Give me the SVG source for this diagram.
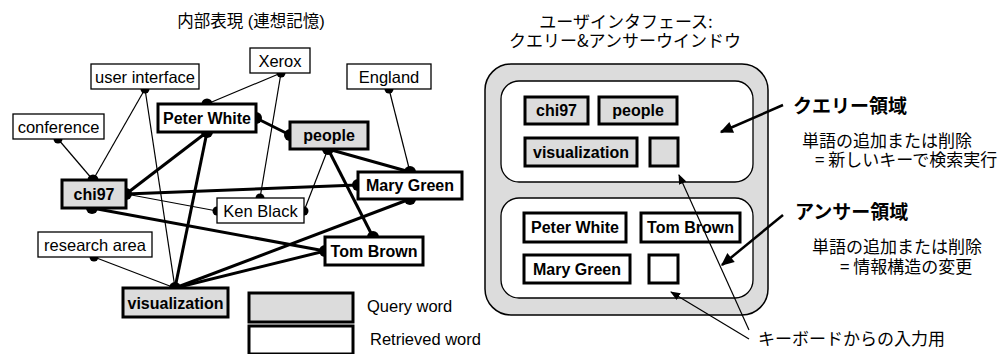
<svg xmlns="http://www.w3.org/2000/svg" width="1005" height="354" viewBox="0 0 1005 354">
  <defs>
    <style>
      .bg { fill: #ffffff; }
      .lat { font-family: "Liberation Sans", Arial, sans-serif; }
      .jp { font-family: "Liberation Sans", "Noto Sans CJK JP", sans-serif; }
      .word { fill: #fff; stroke: #000; stroke-width: 1.3; }
      .key { stroke: #000; stroke-width: 3; }
      .q { fill: #dcdcdc; }
      .r { fill: #fff; }
      .lbl { font-family: "Liberation Sans", Arial, sans-serif; font-size: 16.5px; text-anchor: middle; fill: #000; }
      .blbl { font-family: "Liberation Sans", Arial, sans-serif; font-size: 16px; font-weight: bold; text-anchor: middle; fill: #000; }
      .thin { stroke: #000; stroke-width: 1.2; fill: none; }
      .thick { stroke: #000; stroke-width: 3; fill: none; }
      .dot { fill: #000; }
      .jt { font-family: "Noto Sans CJK JP", sans-serif; font-size: 17px; fill: #000; }
      .jb { font-family: "Noto Sans CJK JP", sans-serif; font-size: 19px; font-weight: bold; fill: #000; }
    </style>
    <marker id="head" viewBox="0 0 10 10" refX="9" refY="5" markerWidth="10" markerHeight="10" markerUnits="userSpaceOnUse" orient="auto">
      <path d="M0,1 L10,5 L0,9 Z" fill="#000"/>
    </marker>
    <marker id="headBig" viewBox="0 0 10 10" refX="9" refY="5" markerWidth="15" markerHeight="13" markerUnits="userSpaceOnUse" orient="auto">
      <path d="M0,0.5 L10,5 L0,9.5 Z" fill="#000"/>
    </marker>
  </defs>

  <rect class="bg" x="0" y="0" width="1005" height="354"/>

  <!-- section titles -->
  <text class="jp" x="251" y="27" font-size="16.5" text-anchor="middle">内部表現 (連想記憶)</text>
  <text class="jt" x="626" y="28" text-anchor="middle">ユーザインタフェース:</text>
  <text class="jt" x="625" y="47" text-anchor="middle">クエリー&amp;アンサーウインドウ</text>

  <!-- associative memory links -->
  <g id="connectors">
    <line class="thin" x1="145" y1="89" x2="93" y2="180"/>
    <line class="thin" x1="58" y1="139" x2="93" y2="180"/>
    <line class="thin" x1="145" y1="89" x2="175" y2="288"/>
    <line class="thin" x1="281" y1="73" x2="207" y2="104"/>
    <line class="thin" x1="281" y1="73" x2="260" y2="198"/>
    <line class="thin" x1="389" y1="89" x2="410" y2="172"/>
    <line class="thin" x1="126" y1="194" x2="217" y2="211"/>
    <line class="thin" x1="328" y1="149" x2="304" y2="211"/>
    <line class="thin" x1="94" y1="257" x2="175" y2="288"/>

    <line class="thick" x1="256" y1="118" x2="290" y2="135"/>
    <line class="thick" x1="207" y1="132" x2="126" y2="194"/>
    <line class="thick" x1="207" y1="132" x2="175" y2="288"/>
    <line class="thick" x1="126" y1="194" x2="358" y2="185"/>
    <line class="thick" x1="92" y1="208" x2="325" y2="251"/>
    <line class="thick" x1="328" y1="149" x2="410" y2="172"/>
    <line class="thick" x1="328" y1="149" x2="373" y2="237"/>
    <line class="thick" x1="175" y1="288" x2="325" y2="251"/>
    <line class="thick" x1="175" y1="288" x2="410" y2="199"/>

    <!-- attachment dots -->
    <circle class="dot" cx="145" cy="89" r="4.5"/>
    <circle class="dot" cx="58" cy="139" r="4.5"/>
    <circle class="dot" cx="93" cy="180" r="5.5"/>
    <circle class="dot" cx="126" cy="194" r="6"/>
    <circle class="dot" cx="92" cy="208" r="6"/>
    <circle class="dot" cx="281" cy="73" r="4.5"/>
    <circle class="dot" cx="207" cy="104" r="5.5"/>
    <circle class="dot" cx="256" cy="118" r="6"/>
    <circle class="dot" cx="207" cy="132" r="6"/>
    <circle class="dot" cx="290" cy="135" r="6"/>
    <circle class="dot" cx="328" cy="149" r="6"/>
    <circle class="dot" cx="389" cy="89" r="4.5"/>
    <circle class="dot" cx="410" cy="172" r="6"/>
    <circle class="dot" cx="358" cy="185" r="6"/>
    <circle class="dot" cx="410" cy="199" r="6"/>
    <circle class="dot" cx="260" cy="198" r="4.5"/>
    <circle class="dot" cx="217" cy="211" r="4.5"/>
    <circle class="dot" cx="304" cy="211" r="4.5"/>
    <circle class="dot" cx="94" cy="257" r="4.5"/>
    <circle class="dot" cx="373" cy="237" r="6"/>
    <circle class="dot" cx="325" cy="251" r="6"/>
    <circle class="dot" cx="175" cy="288" r="6"/>
  </g>

  <!-- word nodes -->
  <g id="node-xerox">
    <rect class="word" x="250" y="48" width="60" height="25"/>
    <text class="lbl" x="280" y="66.5">Xerox</text>
  </g>
  <g id="node-user-interface">
    <rect class="word" x="91" y="64" width="108" height="25"/>
    <text class="lbl" x="145" y="82.5">user interface</text>
  </g>
  <g id="node-england">
    <rect class="word" x="347" y="64" width="84" height="25"/>
    <text class="lbl" x="389" y="82.5">England</text>
  </g>
  <g id="node-conference">
    <rect class="word" x="13" y="114" width="91" height="25"/>
    <text class="lbl" x="58.5" y="132.5">conference</text>
  </g>
  <g id="node-peter-white">
    <rect class="key r" x="158" y="104" width="98" height="28"/>
    <text class="blbl" x="207" y="124">Peter White</text>
  </g>
  <g id="node-people">
    <rect class="key q" x="290" y="122" width="78" height="27"/>
    <text class="blbl" x="329" y="141">people</text>
  </g>
  <g id="node-mary-green">
    <rect class="key r" x="358" y="172" width="104" height="27"/>
    <text class="blbl" x="410" y="191">Mary Green</text>
  </g>
  <g id="node-chi97">
    <rect class="key q" x="62" y="180" width="64" height="28"/>
    <text class="blbl" x="94" y="200">chi97</text>
  </g>
  <g id="node-ken-black">
    <rect class="word" x="217" y="198" width="87" height="25"/>
    <text class="lbl" x="260.5" y="216.5">Ken Black</text>
  </g>
  <g id="node-research-area">
    <rect class="word" x="38" y="232" width="114" height="25"/>
    <text class="lbl" x="95" y="250.5">research area</text>
  </g>
  <g id="node-tom-brown">
    <rect class="key r" x="325" y="237" width="98" height="28"/>
    <text class="blbl" x="374" y="257">Tom Brown</text>
  </g>
  <g id="node-visualization">
    <rect class="key q" x="123" y="288" width="105" height="29"/>
    <text class="blbl" x="175.5" y="308.5">visualization</text>
  </g>

  <!-- legend -->
  <g id="legend">
    <rect class="key q" x="249" y="293" width="104" height="29"/>
    <rect class="key r" x="249" y="326" width="104" height="28"/>
    <text class="lat" x="367" y="312" font-size="16.5">Query word</text>
    <text class="lat" x="370" y="345" font-size="16.5">Retrieved word</text>
  </g>

  <!-- query & answer window -->
  <g id="window">
    <rect x="485" y="64" width="283" height="251" rx="26" ry="26" fill="#dcdcdc" stroke="#000" stroke-width="1.5"/>
    <rect x="501" y="81" width="252" height="101" rx="18" ry="18" fill="#fff" stroke="#000" stroke-width="1.3"/>
    <rect x="501" y="198" width="252" height="100" rx="18" ry="18" fill="#fff" stroke="#000" stroke-width="1.3"/>
  </g>
  <g id="query-chi97">
    <rect class="key q" x="525" y="97" width="63" height="27"/>
    <text class="blbl" x="556.5" y="116">chi97</text>
  </g>
  <g id="query-people">
    <rect class="key q" x="599" y="97" width="78" height="27"/>
    <text class="blbl" x="638" y="116">people</text>
  </g>
  <g id="query-visualization">
    <rect class="key q" x="525" y="138" width="112" height="28"/>
    <text class="blbl" x="581" y="157.5">visualization</text>
  </g>
  <g id="query-input">
    <rect class="key q" x="650" y="138" width="28" height="28"/>
  </g>
  <g id="answer-peter-white">
    <rect class="key r" x="524" y="213" width="102" height="29"/>
    <text class="blbl" x="575" y="233">Peter White</text>
  </g>
  <g id="answer-tom-brown">
    <rect class="key r" x="641" y="213" width="99" height="29"/>
    <text class="blbl" x="690.5" y="233">Tom Brown</text>
  </g>
  <g id="answer-mary-green">
    <rect class="key r" x="524" y="255" width="106" height="28"/>
    <text class="blbl" x="577" y="275">Mary Green</text>
  </g>
  <g id="answer-input">
    <rect class="key r" x="649" y="255" width="29" height="28"/>
  </g>

  <!-- annotations -->
  <g id="annotations">
    <line x1="783" y1="105" x2="721" y2="132" stroke="#000" stroke-width="2.5" marker-end="url(#headBig)"/>
    <line x1="783" y1="215" x2="722" y2="265" stroke="#000" stroke-width="2.5" marker-end="url(#headBig)"/>
    <line x1="749" y1="339" x2="671" y2="292" stroke="#000" stroke-width="1.2" marker-end="url(#head)"/>
    <line x1="749" y1="330" x2="679" y2="175" stroke="#000" stroke-width="1.2" marker-end="url(#head)"/>

    <text class="jb" x="793" y="113">クエリー領域</text>
    <text class="jt" x="802" y="147">単語の追加または削除</text>
    <text class="jt" x="815" y="166">= 新しいキーで検索実行</text>
    <text class="jb" x="795" y="219">アンサー領域</text>
    <text class="jt" x="812" y="253">単語の追加または削除</text>
    <text class="jt" x="840" y="273">= 情報構造の変更</text>
    <text class="jt" x="758" y="345">キーボードからの入力用</text>
  </g>
</svg>
